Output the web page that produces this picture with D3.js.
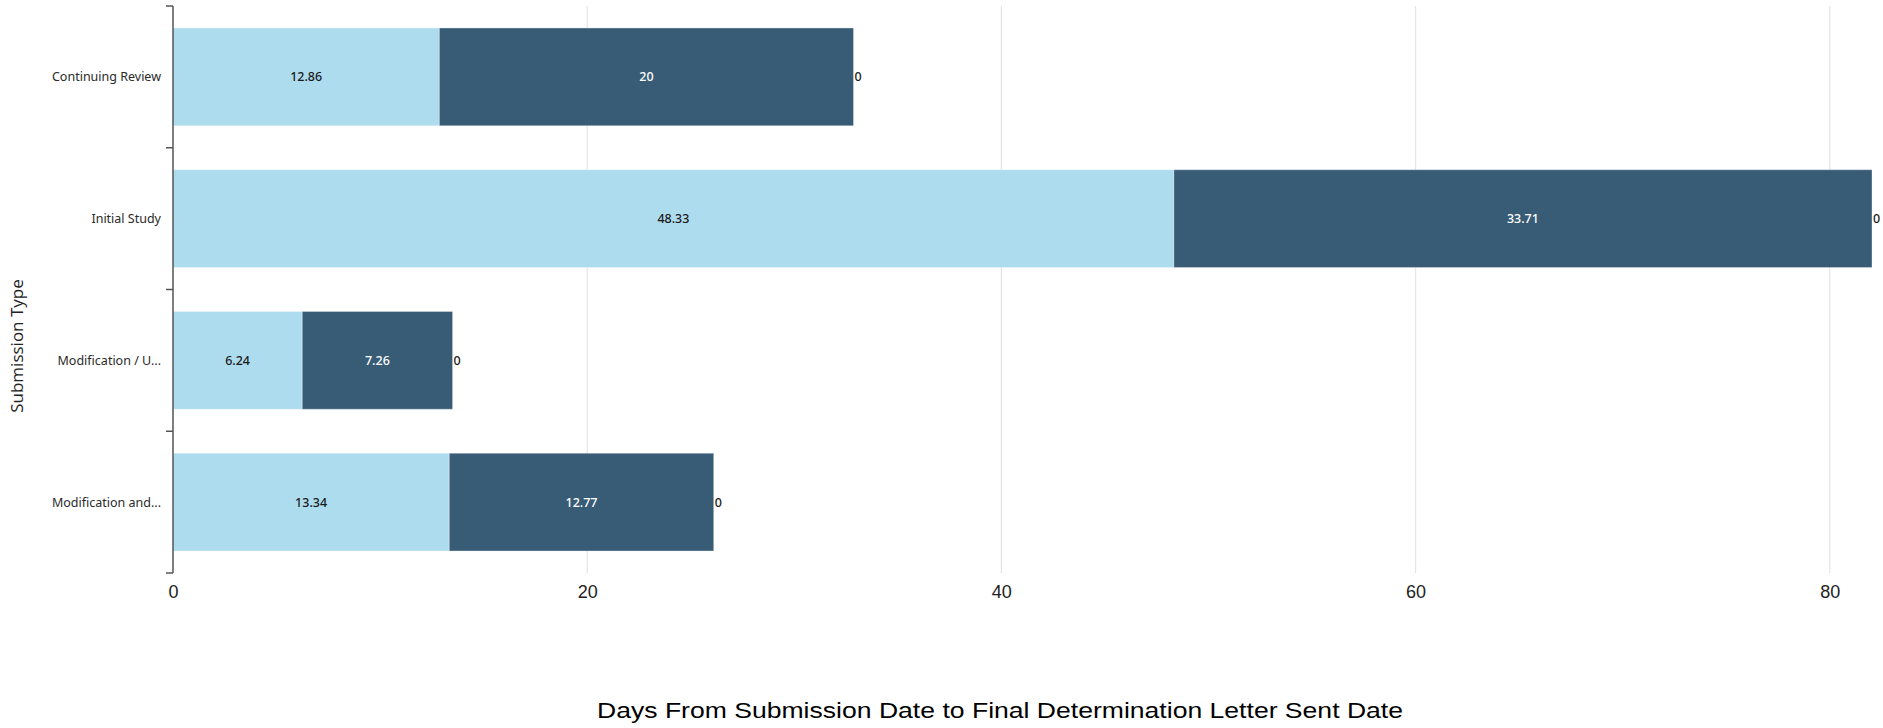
<!DOCTYPE html>
<html>
<head>
<meta charset="utf-8">
<script src="https://cdn.jsdelivr.net/npm/d3@7"></script>
<style>
  html, body { margin: 0; padding: 0; background: #fff; }
  svg { display: block; }
</style>
</head>
<body>
<svg id="chart" width="1883" height="728"></svg>
<script>
// ---- data ----
const categories = ["Continuing Review", "Initial Study", "Modification / U...", "Modification and..."];
const seriesA = [12.86, 48.33, 6.24, 13.34];   // light segment
const seriesB = [20, 33.71, 7.26, 12.77];      // dark segment
const seriesC = [0, 0, 0, 0];                  // zero segment (label only)
const xTicks = [0, 20, 40, 60, 80];
const xTitle = "Days From Submission Date to Final Determination Letter Sent Date";
const yTitle = "Submission Type";

(function () {
// ---- layout ----
const mLeft = 173, mRight = 1872, mTop = 6, mBottom = 573;
const colors = ["#ADDCEE", "#385C76"];
const svg = d3.select("#chart");

const rows = categories.map((c, i) => ({ cat: c, a: seriesA[i], b: seriesB[i], c: seriesC[i] }));
const stack = d3.stack().keys(["a", "b", "c"])(rows);
const xMax = d3.max(rows, d => d.a + d.b + d.c);

const x = d3.scaleLinear().domain([0, xMax]).range([mLeft, mRight]);
const y = d3.scaleBand().domain(categories).range([mTop, mBottom]).paddingInner(0.31).paddingOuter(0.155);

// gridlines
svg.append("g").selectAll("line").data(xTicks.filter(t => t > 0)).join("line")
  .attr("x1", d => x(d)).attr("x2", d => x(d))
  .attr("y1", mTop).attr("y2", mBottom)
  .attr("stroke", "#e5e5e5").attr("stroke-width", 1.2);

// bars
const layers = svg.append("g").selectAll("g").data(stack.slice(0, 2)).join("g")
  .attr("fill", (d, i) => colors[i]);
layers.selectAll("rect").data(d => d).join("rect")
  .attr("x", d => x(d[0]))
  .attr("y", d => y(d.data.cat))
  .attr("width", d => x(d[1]) - x(d[0]))
  .attr("height", y.bandwidth())
  .attr("stroke", "rgba(255,255,255,0.35)")
  .attr("stroke-width", 1);

// value labels
const labelFont = "'Noto Sans', 'Open Sans', sans-serif";
const lab = svg.append("g").attr("font-family", labelFont).attr("font-size", 12.5).attr("font-weight", 500);
stack.slice(0, 2).forEach((layer, li) => {
  lab.selectAll("text.l" + li).data(layer).join("text")
    .attr("class", "l" + li)
    .attr("x", d => (x(d[0]) + x(d[1])) / 2)
    .attr("y", d => y(d.data.cat) + y.bandwidth() / 2)
    .attr("dy", "0.35em")
    .attr("text-anchor", "middle")
    .attr("fill", li === 0 ? "#1a1a1a" : "#ffffff")
    .text(d => +(d[1] - d[0]).toFixed(2));
});
lab.selectAll("text.l2").data(stack[2]).join("text")
  .attr("class", "l2")
  .attr("x", d => x(d[1]) + 1)
  .attr("y", d => y(d.data.cat) + y.bandwidth() / 2)
  .attr("dy", "0.35em")
  .attr("text-anchor", "start")
  .attr("fill", "#1a1a1a")
  .text(d => +(d[1] - d[0]).toFixed(2));

// y axis line + boundary ticks
const step = y.step(), pad = step * y.paddingInner() / 2;
const bounds = categories.map(c => y(c) - pad).concat([y(categories[categories.length - 1]) + y.bandwidth() + pad]);
const yAxisG = svg.append("g");
yAxisG.append("line").attr("x1", mLeft).attr("x2", mLeft).attr("y1", mTop).attr("y2", mBottom)
  .attr("stroke", "#555").attr("stroke-width", 1.5);
yAxisG.selectAll("line.t").data(bounds).join("line").attr("class", "t")
  .attr("x1", mLeft - 7).attr("x2", mLeft).attr("y1", d => d).attr("y2", d => d)
  .attr("stroke", "#555").attr("stroke-width", 1.5);

// category labels
svg.append("g").attr("font-family", labelFont).attr("font-size", 12.5)
  .selectAll("text").data(categories).join("text")
  .attr("x", 161)
  .attr("y", d => y(d) + y.bandwidth() / 2)
  .attr("dy", "0.35em")
  .attr("text-anchor", "end")
  .attr("fill", "#2a2a2a")
  .text(d => d);

// x axis tick labels via d3 axis
const xAxis = d3.axisBottom(x).tickValues(xTicks).tickSize(0).tickPadding(0);
const xg = svg.append("g").attr("transform", `translate(0,${mBottom})`).call(xAxis);
xg.select(".domain").remove();
xg.selectAll("text")
  .attr("font-family", "'Liberation Sans', Arial, sans-serif")
  .attr("font-size", 18).attr("fill", "#222")
  .attr("dy", null).attr("y", 25);

// axis titles
svg.append("text")
  .attr("x", 1000).attr("y", 718)
  .attr("text-anchor", "middle")
  .attr("font-family", "'Liberation Sans', Arial, sans-serif")
  .attr("font-size", 22).attr("fill", "#000")
  .attr("textLength", 806).attr("lengthAdjust", "spacingAndGlyphs")
  .text(xTitle);

svg.append("text")
  .attr("transform", "translate(23,346) rotate(-90)")
  .attr("text-anchor", "middle")
  .attr("font-family", "'Open Sans', 'Noto Sans', sans-serif")
  .attr("font-size", 17).attr("fill", "#222")
  .text(yTitle);
})();
</script>
</body>
</html>
